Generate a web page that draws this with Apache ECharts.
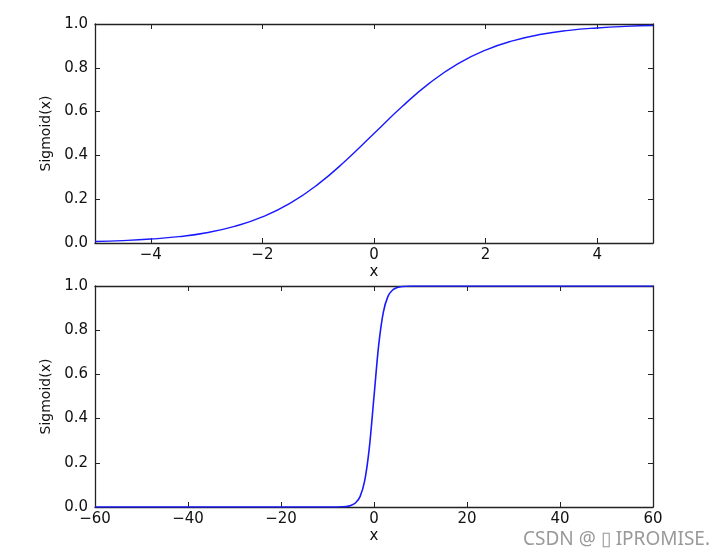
<!DOCTYPE html>
<html><head><meta charset="utf-8">
<script src="https://cdn.jsdelivr.net/npm/echarts@6/dist/echarts.min.js"></script>
<style>html,body{margin:0;padding:0;background:#fff}#c{width:723px;height:560px}</style>
</head><body><div id="c"></div>
<script>
// Top panel: sigmoid over [-5, 5]
const topX = [-5,-4.5,-4,-3.5,-3,-2.5,-2,-1.5,-1,-0.5,0,0.5,1,1.5,2,2.5,3,3.5,4,4.5,5];
const topY = [0.007,0.011,0.018,0.029,0.047,0.076,0.119,0.182,0.269,0.378,0.5,0.622,0.731,0.818,0.881,0.924,0.953,0.971,0.982,0.989,0.993];
// Bottom panel: sigmoid over [-60, 60]
const botX = [-60,-40,-20,-10,-8,-6,-5,-4,-3,-2,-1,0,1,2,3,4,5,6,8,10,20,40,60];
const botY = [0,0,0,0,0.0003,0.0025,0.007,0.018,0.047,0.119,0.269,0.5,0.731,0.881,0.953,0.982,0.993,0.9975,0.9997,1,1,1,1];
const topTicks = [-4,-2,0,2,4];
const botTicks = [-60,-40,-20,0,20,40,60];
const yTicks = [0,0.2,0.4,0.6,0.8,1.0];

const FONT = 'DejaVu Sans';
const chart = echarts.init(document.getElementById('c'), null, {renderer:'canvas'});
const fmtX = v => String(v).replace('-', '\u2212');
const lineC = {show:true, onZero:false, lineStyle:{color:'#222', width:1.3}};
function xAx(grid, min, max, ticks, pos, labels){
  return {type:'value', gridIndex:grid, min, max, position:pos,
    name: labels ? 'x' : '', nameLocation:'middle', nameGap:22,
    nameTextStyle:{fontFamily:FONT, fontSize:15, color:'#111'},
    axisLine:lineC, splitLine:{show:false},
    axisTick:{show:true, inside:true, length:5, lineStyle:{color:'#222'}, customValues:ticks},
    axisLabel:{show:labels, customValues:ticks, formatter:fmtX, fontFamily:FONT, fontSize:15, color:'#111', margin:5}};
}
function yAx(grid, pos, labels){
  return {type:'value', gridIndex:grid, min:0, max:1, position:pos,
    name: labels ? 'Sigmoid(x)' : '', nameLocation:'middle', nameGap:38,
    nameTextStyle:{fontFamily:FONT, fontSize:14, color:'#111'},
    axisLine:lineC, splitLine:{show:false},
    axisTick:{show:true, inside:true, length:5, lineStyle:{color:'#222'}, customValues:yTicks},
    axisLabel:{show:labels, customValues:yTicks, formatter:v=>v.toFixed(1), fontFamily:FONT, fontSize:15, color:'#111', margin:7}};
}
chart.setOption({
  animation:false,
  grid:[{left:95, top:24, width:558, height:219},{left:95, top:286, width:558, height:221}],
  xAxis:[xAx(0,-5,5,topTicks,'bottom',true), xAx(0,-5,5,topTicks,'top',false),
         xAx(1,-60,60,botTicks,'bottom',true), xAx(1,-60,60,botTicks,'top',false)],
  yAxis:[yAx(0,'left',true), yAx(0,'right',false), yAx(1,'left',true), yAx(1,'right',false)],
  series:[
    {type:'line', xAxisIndex:0, yAxisIndex:0, data:topX.map((x,i)=>[x,topY[i]]), showSymbol:false, smooth:true, lineStyle:{color:'#1a1aff', width:1.4}},
    {type:'line', xAxisIndex:2, yAxisIndex:2, data:botX.map((x,i)=>[x,botY[i]]), showSymbol:false, smooth:0.3, lineStyle:{color:'#1a1aff', width:1.6}}
  ],
  graphic:[{type:'text', right:13, top:530, style:{text:'CSDN @ \u25AF IPROMISE.', fontFamily:'Noto Sans', fontSize:19, fill:'#999'}}]
});
</script></body></html>
